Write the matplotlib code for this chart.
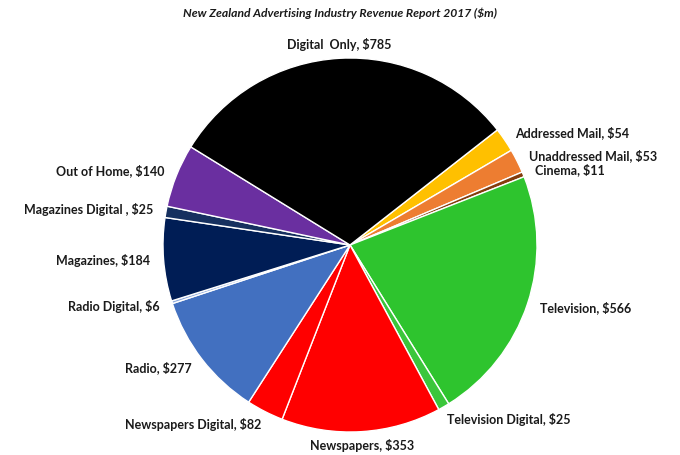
import numpy as np
import matplotlib.pyplot as plt

# data (NZ$ million), clockwise from the Addressed Mail slice
categories = ['Addressed Mail', 'Unaddressed Mail', 'Cinema', 'Television',
              'Television Digital', 'Newspapers', 'Newspapers Digital', 'Radio',
              'Radio Digital', 'Magazines', 'Magazines Digital ', 'Out of Home',
              'Digital  Only']
values = [54, 53, 11, 566, 25, 353, 82, 277, 6, 184, 25, 140, 785]
colors = ['#FFC000', '#ED7D31', '#843C0C', '#2EC42E', '#3BC63B', '#FF0000',
          '#FF0000', '#4270C0', '#8FAADC', '#001D55', '#16305F', '#6A2FA0',
          '#000000']

plt.rcParams['font.family'] = ['Lato', 'DejaVu Sans']

fig = plt.figure(figsize=(6.8, 4.55), dpi=100)
ax = fig.add_axes([0, 0, 1, 1])
ax.set_xlim(0, 680)
ax.set_ylim(0, 455)
ax.set_aspect('equal')

cx, cy, r = 350, 210, 187
wedges, _ = ax.pie(values, colors=colors, startangle=38, counterclock=False,
                   center=(cx, cy), radius=r, frame=True,
                   wedgeprops=dict(edgecolor='white', linewidth=1))
ax.axis('off')

# labels outside the end of each slice
for w, name, v in zip(wedges, categories, values):
    ang = np.deg2rad((w.theta1 + w.theta2) / 2)
    c, s = np.cos(ang), np.sin(ang)
    if c > 0.15:
        ha = 'left'
    elif c < -0.15:
        ha = 'right'
    else:
        ha = 'center'
    if s > 0.75:
        va = 'bottom'
    elif s < -0.75:
        va = 'top'
    else:
        va = 'center'
    d = r + (7 if va != 'center' else 13)
    x, y = cx + d * c, cy + d * s
    ax.text(x, y, f'{name}, ${v}', ha=ha, va=va, fontsize=9,
            fontweight='bold', color='#1a1a1a')

ax.text(340, 442, 'New Zealand Advertising Industry Revenue Report 2017 ($m)',
        ha='center', va='center', fontsize=8.7, fontweight='bold',
        fontstyle='italic', color='#1a1a1a')

fig.savefig('out.png', dpi=100)
